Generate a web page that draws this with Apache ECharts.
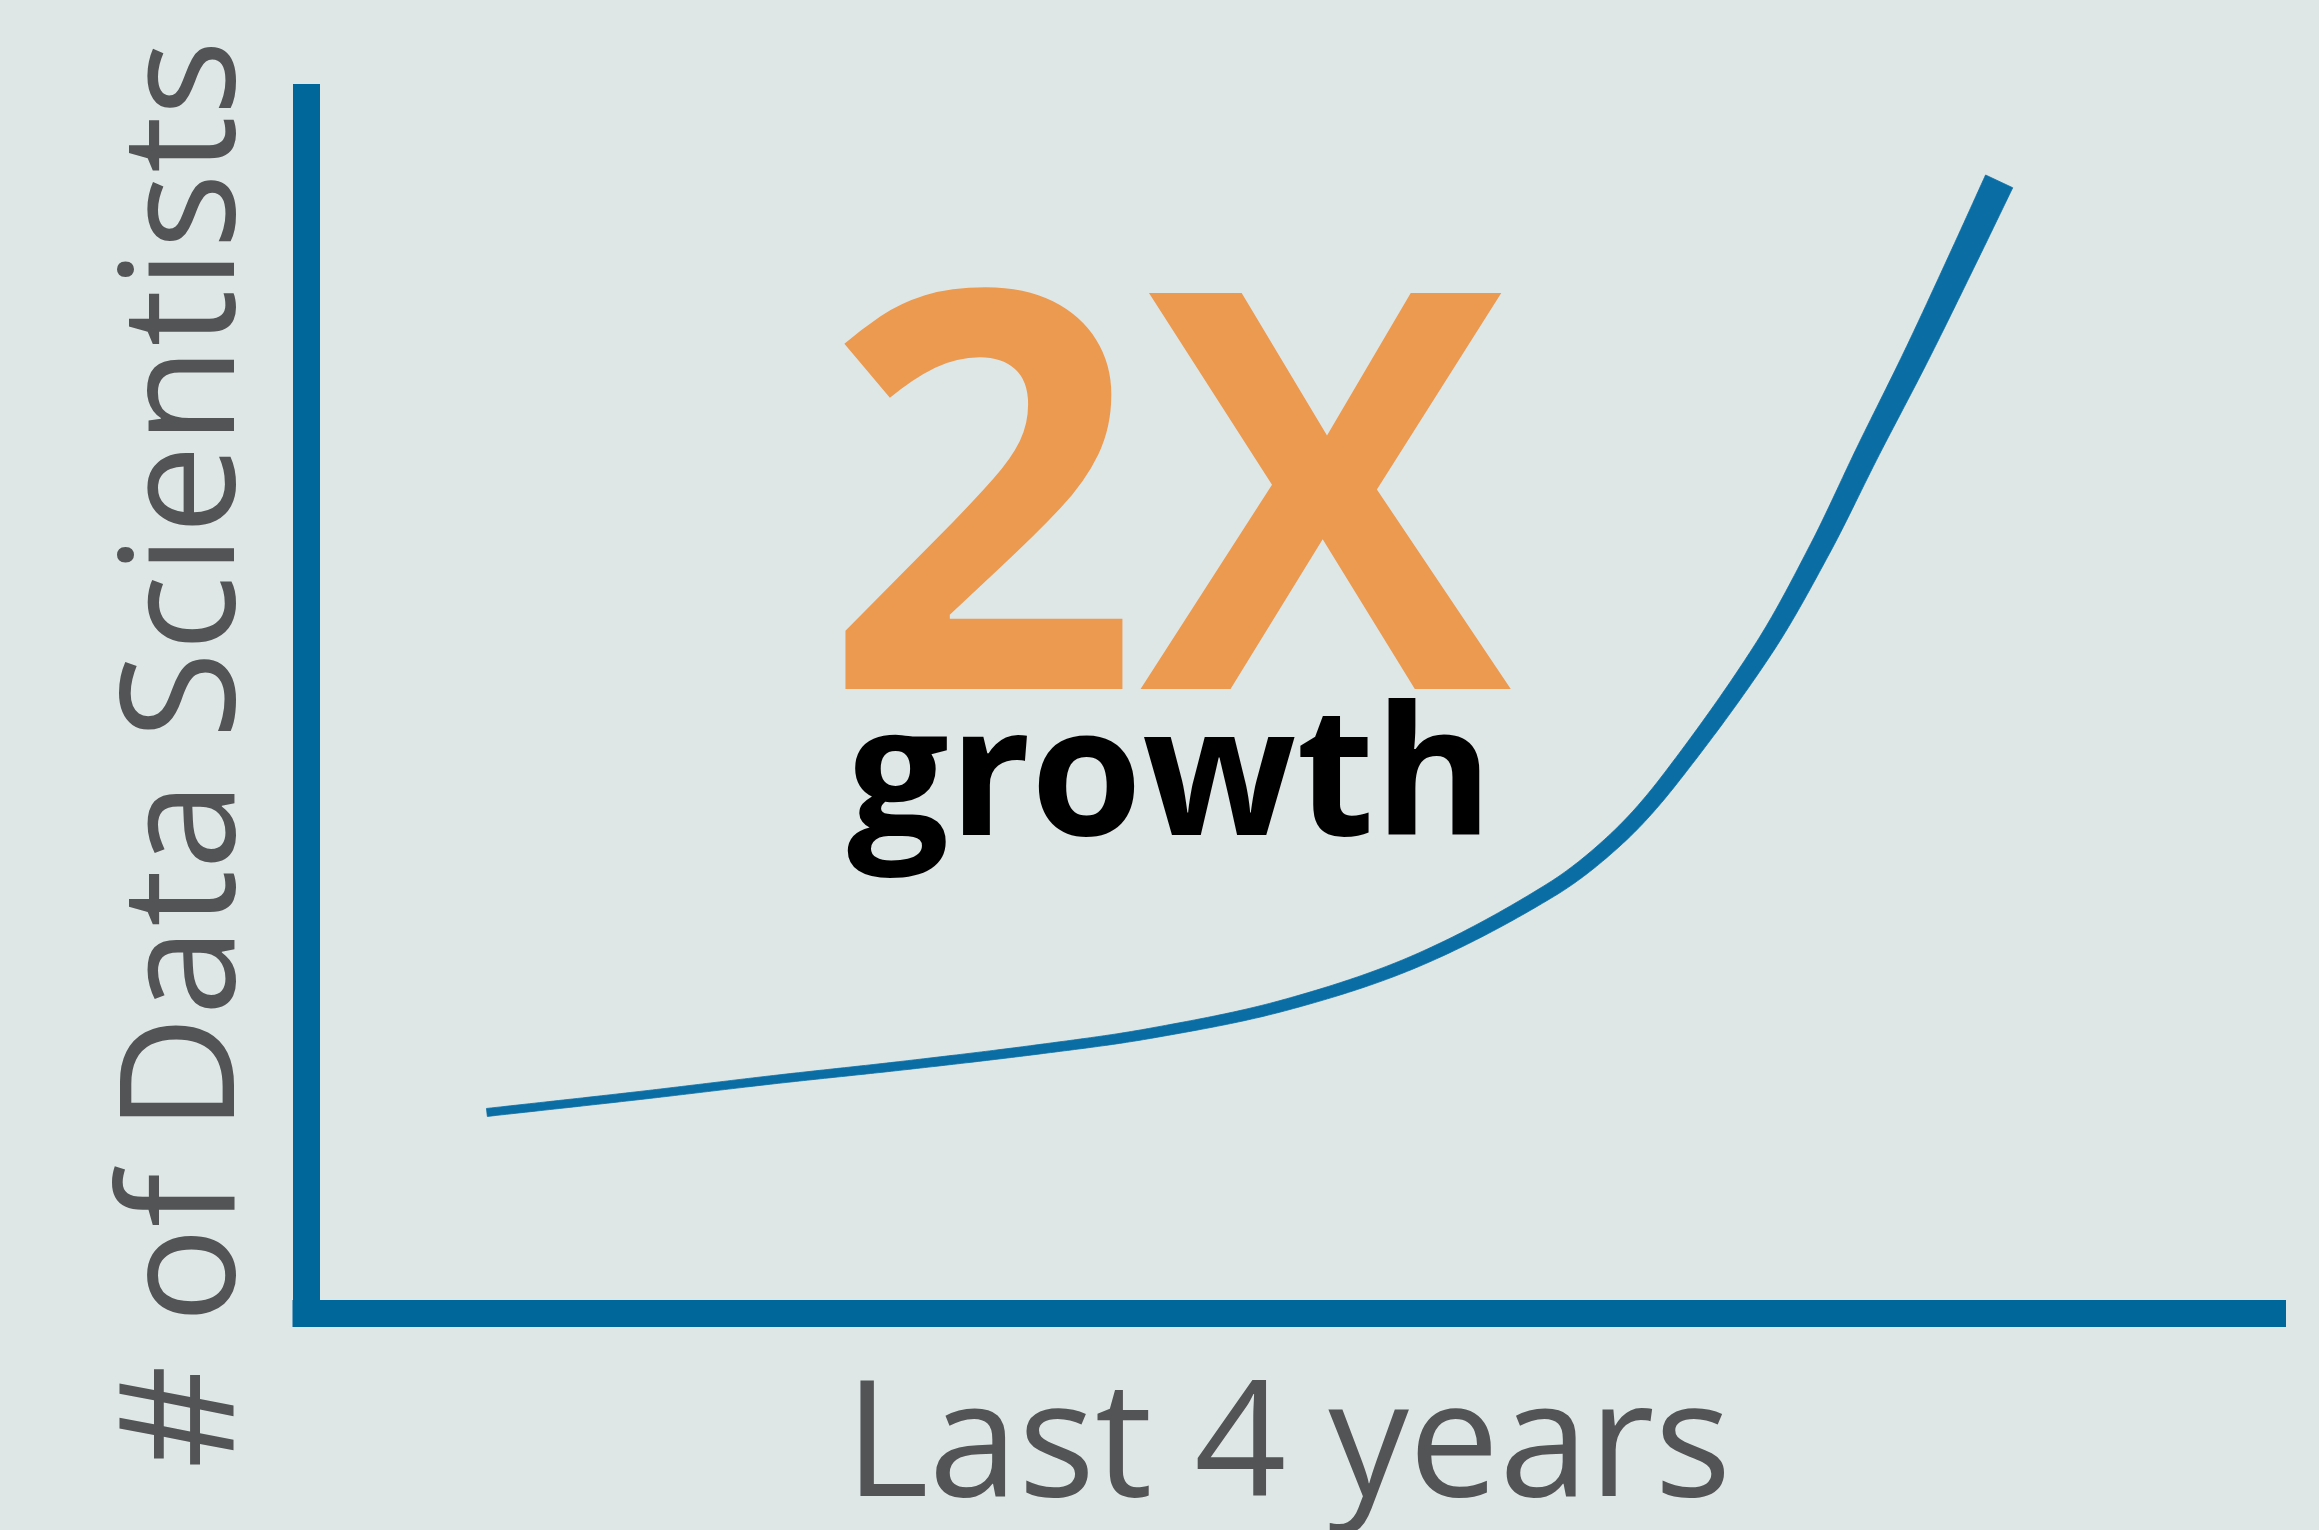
<!DOCTYPE html>
<html>
<head>
<meta charset="utf-8">
<script src="https://cdn.jsdelivr.net/npm/echarts@6/dist/echarts.min.js"></script>
<style>
  html, body { margin: 0; padding: 0; background: #DFE6E6; }
  #chart { width: 2319px; height: 1530px; }
</style>
</head>
<body>
<div id="chart"></div>
<script>
// ---- data (x: share of the 4-year span, y: relative number of data scientists) ----
const xValues = [9.2, 17.0, 23.8, 30.6, 37.3, 42.9, 49.7, 56.5, 63.3, 66.7, 69.4, 74.1, 77.0, 79.4, 81.9, 84.3, 86.1];
const yValues = [16.5, 17.9, 19.2, 20.4, 21.7, 23.0, 25.3, 29.0, 34.8, 39.1, 44.0, 54.6, 62.9, 70.8, 78.8, 86.9, 93.1];
const xAxisTitle = 'Last 4 years';
const yAxisTitle = '# of Data Scientists';
const headline = '2X';
const subline = 'growth';

const points = xValues.map((x, i) => [x, yValues[i]]);

const BLUE_AXIS = '#00679B';
const BLUE_LINE = '#0A6EA4';
const ORANGE = '#EB9A50';
const GRAY = '#525456';
const W_START = 8, W_END = 30, W_POW = 2.2;

// smooth curve through the points (chord-length Hermite spline), drawn as a band that thickens as it rises
function renderCurve(params, api) {
  if (params.dataIndex !== 0) return null;
  const n = points.length;
  const P = points.map(p => api.coord(p));
  const d = [];
  for (let i = 0; i < n - 1; i++) d.push(Math.hypot(P[i + 1][0] - P[i][0], P[i + 1][1] - P[i][1]));
  const total = d.reduce((a, b) => a + b, 0);
  const m = P.map((p, i) => {
    if (i === 0) return [(P[1][0] - P[0][0]) / d[0], (P[1][1] - P[0][1]) / d[0]];
    if (i === n - 1) return [(P[i][0] - P[i - 1][0]) / d[i - 1], (P[i][1] - P[i - 1][1]) / d[i - 1]];
    const s = d[i - 1] + d[i];
    return [(P[i + 1][0] - P[i - 1][0]) / s, (P[i + 1][1] - P[i - 1][1]) / s];
  });
  const left = [], right = [];
  const STEPS = 32;
  let run = 0;
  for (let i = 0; i < n - 1; i++) {
    const p1 = P[i], p2 = P[i + 1];
    const q1 = [p1[0] + m[i][0] * d[i] / 3, p1[1] + m[i][1] * d[i] / 3];
    const q2 = [p2[0] - m[i + 1][0] * d[i] / 3, p2[1] - m[i + 1][1] * d[i] / 3];
    for (let s = (i === 0 ? 0 : 1); s <= STEPS; s++) {
      const t = s / STEPS, u = 1 - t;
      const bx = u*u*u*p1[0] + 3*u*u*t*q1[0] + 3*u*t*t*q2[0] + t*t*t*p2[0];
      const by = u*u*u*p1[1] + 3*u*u*t*q1[1] + 3*u*t*t*q2[1] + t*t*t*p2[1];
      const dx = 3*u*u*(q1[0]-p1[0]) + 6*u*t*(q2[0]-q1[0]) + 3*t*t*(p2[0]-q2[0]);
      const dy = 3*u*u*(q1[1]-p1[1]) + 6*u*t*(q2[1]-q1[1]) + 3*t*t*(p2[1]-q2[1]);
      const len = Math.hypot(dx, dy) || 1;
      const nx = -dy / len, ny = dx / len;
      const prog = (run + d[i] * t) / total;
      const hw = (W_START + (W_END - W_START) * Math.pow(prog, W_POW)) / 2;
      left.push([bx + nx * hw, by + ny * hw]);
      right.push([bx - nx * hw, by - ny * hw]);
    }
    run += d[i];
  }
  return {
    type: 'polygon',
    shape: { points: left.concat(right.reverse()) },
    style: { fill: BLUE_LINE, stroke: BLUE_LINE, lineWidth: 0.8 },
    silent: true
  };
}

const chart = echarts.init(document.getElementById('chart'), null, { renderer: 'canvas' });

const axisCommon = {
  type: 'value',
  min: 0,
  max: 100,
  axisLine: { show: true, lineStyle: { color: BLUE_AXIS, width: 27, cap: 'square' } },
  axisTick: { show: false },
  axisLabel: { show: false },
  splitLine: { show: false }
};

chart.setOption({
  backgroundColor: '#DFE6E6',
  animation: false,
  grid: { left: 306, right: 46.5, top: 97.5, bottom: 217, containLabel: false },
  xAxis: Object.assign({}, axisCommon),
  yAxis: Object.assign({}, axisCommon),
  series: [{
    type: 'custom',
    data: points,
    clip: false,
    renderItem: renderCurve,
    z: 3
  }],
  graphic: [
    {
      type: 'text', x: 1167, y: 531, z: 10,
      style: { text: headline, fill: ORANGE, fontFamily: '"Open Sans"', fontWeight: 700, fontSize: 555, align: 'center', verticalAlign: 'middle' }
    },
    {
      type: 'text', x: 1170, y: 784, z: 10,
      style: { text: subline, fill: '#000000', fontFamily: '"Open Sans"', fontWeight: 700, fontSize: 180, align: 'center', verticalAlign: 'middle' }
    },
    {
      type: 'text', x: 1288, y: 1450, z: 10,
      style: { text: xAxisTitle, fill: GRAY, fontFamily: '"Open Sans"', fontWeight: 400, fontSize: 161, align: 'center', verticalAlign: 'middle' }
    },
    {
      type: 'text', x: 188, y: 754, rotation: Math.PI / 2, z: 10,
      style: { text: yAxisTitle, fill: GRAY, fontFamily: '"Open Sans"', fontWeight: 400, fontSize: 160, align: 'center', verticalAlign: 'middle' }
    }
  ]
});
</script>
</body>
</html>
